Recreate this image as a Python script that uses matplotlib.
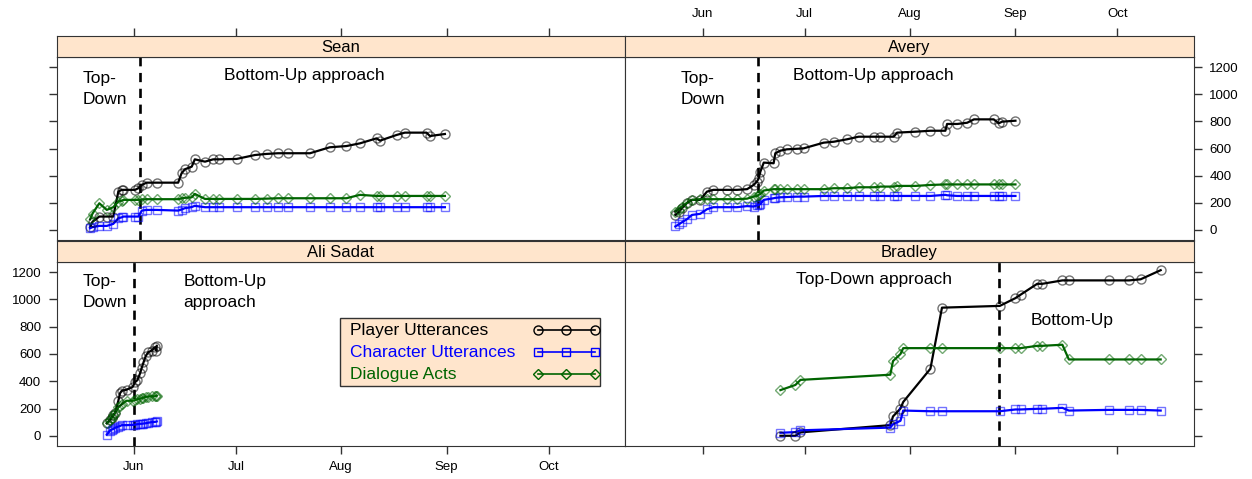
import datetime as dt
import numpy as np
import matplotlib.pyplot as plt
import matplotlib.dates as mdates
from matplotlib.patches import Rectangle

plt.rcParams['font.family'] = ['Liberation Sans', 'DejaVu Sans']

# all days are counted from 1 June
start = mdates.date2num(dt.datetime(2013, 6, 1))

sean_day = [-12.9, -12.2, -10.2, -8.0, -6.1, -4.6, -3.6, -3.1, 0.3, 1.3, 2.3, 3.7, 6.7,
            13.0, 14.0, 15.0, 17.0, 17.9, 20.9, 23.3, 25.0, 30.2, 35.6, 39.0, 42.4,
            45.4, 51.8, 57.6, 62.5, 66.5, 71.4, 72.4, 77.3, 79.7, 86.1, 87.1, 91.5]
sean_player = [20, 60, 98, 98, 98, 282, 295, 295, 295, 307, 331, 348, 348,
               348, 417, 447, 466, 520, 503, 520, 520, 523, 552, 560, 565,
               565, 565, 609, 618, 638, 675, 658, 700, 717, 717, 692, 707]
sean_char = [12, 20, 29, 29, 44, 86, 92, 98, 98, 98, 142, 147, 147,
             142, 150, 160, 168, 177, 167, 167, 167, 167, 167, 167, 167,
             167, 167, 167, 167, 167, 167, 167, 167, 167, 167, 167, 167]
sean_acts = [78, 120, 196, 147, 167, 209, 215, 221, 221, 221, 224, 226, 226,
             226, 232, 236, 240, 265, 228, 228, 228, 228, 228, 230, 233,
             233, 233, 233, 233, 258, 250, 250, 250, 250, 250, 250, 250]

avery_day = [-8.0, -7.0, -6.1, -4.5, -3.1, -0.7, 1.3, 3.2, 7.2, 10.1, 13.1, 15.0, 16.0,
             16.5, 17.0, 18.0, 20.9, 21.4, 22.9, 24.8, 27.8, 29.7, 35.6, 38.6, 42.5,
             45.9, 50.3, 52.3, 56.2, 57.2, 62.6, 67.0, 71.4, 71.9, 74.9, 77.8, 79.8,
             85.6, 87.1, 88.1, 92.0]
avery_player = [110, 130, 160, 200, 221, 221, 282, 295, 295, 295, 300, 331, 356,
                380, 429, 496, 491, 565, 584, 594, 598, 601, 643, 650, 668,
                687, 687, 687, 687, 717, 724, 731, 731, 781, 781, 790, 815,
                815, 786, 798, 805]
avery_char = [25, 40, 55, 80, 110, 118, 152, 167, 167, 167, 175, 172, 180,
              184, 190, 221, 233, 236, 240, 242, 245, 245, 250, 250, 250,
              250, 250, 250, 250, 250, 250, 250, 258, 255, 250, 250, 250,
              250, 250, 250, 250]
avery_acts = [135, 150, 172, 200, 221, 226, 226, 226, 226, 226, 230, 245, 250,
              258, 265, 290, 300, 300, 300, 300, 300, 300, 300, 307, 307,
              314, 314, 319, 319, 324, 324, 331, 335, 335, 335, 335, 335,
              335, 335, 335, 335]

ali_day = [-8.0, -7.1, -6.6, -6.1, -5.6, -4.6, -4.1, -3.6, -2.2, -0.4, 0.3, 1.0, 1.8,
           2.3, 2.8, 3.5, 4.2, 5.2, 6.2, 6.6, 6.7]
ali_player = [92, 115, 133, 150, 168, 257, 312, 330, 338, 358, 393, 408, 458,
              500, 538, 587, 613, 625, 650, 625, 660]
ali_char = [8, 38, 45, 50, 58, 68, 72, 78, 78, 80, 82, 85, 88,
            88, 90, 92, 96, 100, 102, 104, 105]
ali_acts = [92, 115, 133, 150, 168, 208, 220, 232, 257, 257, 262, 268, 272,
            275, 280, 286, 288, 290, 290, 292, 295]

bradley_day = [22.9, 27.3, 28.8, 55.2, 56.0, 58.2, 59.0, 67.0, 70.4, 87.4, 92.0, 93.5,
               98.4, 99.9, 105.8, 107.7, 119.5, 125.4, 128.8, 134.7]
bradley_player = [0, 0, 25, 78, 142, 200, 248, 492, 940, 953, 1010, 1035,
                  1115, 1115, 1140, 1140, 1140, 1140, 1148, 1215]
bradley_char = [22, 27, 40, 60, 85, 110, 185, 180, 180, 180, 193, 193,
                198, 198, 205, 185, 190, 190, 190, 185]
bradley_acts = [335, 373, 410, 448, 548, 600, 643, 643, 643, 643, 643, 643,
                660, 660, 668, 560, 560, 560, 560, 560]

# day on which the approach changed
switch_day = {'Sean': 1.9, 'Avery': 16.2, 'Ali Sadat': 0.0, 'Bradley': 87.1}

series_names = ['Player Utterances', 'Character Utterances', 'Dialogue Acts']
series_cols = ['black', '#0000ff', '#006400']
series_mark = ['o', 's', 'D']
series_ms = [6.5, 5.5, 5.5]

W, H = 1252, 479
fig = plt.figure(figsize=(W / 100, H / 100), dpi=100)

frame_col = '#333333'
strip_col = '#ffe5cc'

def fx(px):
    return px / W

def fy(py):
    return 1 - py / H

xl = (start - 22.8, start + 144.5)
yl = (-75, 1275)

# panel geometry in pixels: (left, right, top, bottom)
cols = [(56.5, 625), (625, 1194)]
rows = [(57, 240), (262, 446)]
strip_h = 21.5

panels = [
    ('Sean', 0, 0, sean_day, [sean_player, sean_char, sean_acts]),
    ('Avery', 0, 1, avery_day, [avery_player, avery_char, avery_acts]),
    ('Ali Sadat', 1, 0, ali_day, [ali_player, ali_char, ali_acts]),
    ('Bradley', 1, 1, bradley_day, [bradley_player, bradley_char, bradley_acts]),
]

axes = {}
for name, r, c, day, vals in panels:
    l, rr = cols[c]
    t, b = rows[r]
    ax = fig.add_axes([fx(l), fy(b), fx(rr - l), (b - t) / H])
    sax = fig.add_axes([fx(l), fy(t), fx(rr - l), strip_h / H])
    axes[name] = ax
    x = start + np.array(day)
    for v, col, mk, ms in zip(vals, series_cols, series_mark, series_ms):
        ax.plot(x, v, color=col, lw=1.6, zorder=2)
        ax.plot(x, v, ls='none', marker=mk, ms=ms, mfc='none', mec=col, mew=1.0,
                alpha=0.55, zorder=3)
    ax.axvline(start + switch_day[name], color='black', lw=1.9, ls=(0, (3.5, 2.5)), zorder=1)
    ax.set_xlim(xl)
    ax.set_ylim(yl)
    ax.set_yticks(np.arange(0, 1201, 200))
    ax.xaxis.set_major_locator(mdates.MonthLocator(bymonth=[6, 7, 8, 9, 10]))
    ax.xaxis.set_major_formatter(mdates.DateFormatter('%b'))
    for sp in ax.spines.values():
        sp.set_color(frame_col)
    ax.tick_params(colors=frame_col, labelcolor='black', length=6, width=1,
                   labelsize=9.5, pad=5)
    # lattice style alternating axes
    ax.tick_params(axis='y', left=(c == 0), right=(c == 1),
                   labelleft=(c == 0 and r == 1), labelright=(c == 1 and r == 0))
    ax.tick_params(axis='x', bottom=(r == 1), labelbottom=(r == 1 and c == 0),
                   top=False)

    sax.set_facecolor(strip_col)
    sax.set_xlim(xl)
    sax.set_yticks([])
    sax.xaxis.set_major_locator(mdates.MonthLocator(bymonth=[6, 7, 8, 9, 10]))
    sax.xaxis.set_major_formatter(mdates.DateFormatter('%b'))
    sax.tick_params(axis='x', bottom=False, labelbottom=False, top=(r == 0),
                    labeltop=(r == 0 and c == 1), colors=frame_col, labelcolor='black',
                    length=6, width=1, labelsize=9.5, pad=5)
    for sp in sax.spines.values():
        sp.set_color(frame_col)
    sax.text(0.5, 0.45, name, transform=sax.transAxes, ha='center', va='center',
             fontsize=12)

fs = 12.5
ax = axes['Sean']
ax.text(start - 15.2, 1040, 'Top-\nDown', ha='left', va='center', fontsize=fs, linespacing=1.45)
ax.text(start + 50.2, 1136, 'Bottom-Up approach', ha='center', va='center', fontsize=fs)

ax = axes['Avery']
ax.text(start - 6.4, 1040, 'Top-\nDown', ha='left', va='center', fontsize=fs, linespacing=1.45)
ax.text(start + 50.3, 1136, 'Bottom-Up approach', ha='center', va='center', fontsize=fs)

ax = axes['Ali Sadat']
ax.text(start - 15.2, 1054, 'Top-\nDown', ha='left', va='center', fontsize=fs, linespacing=1.45)
ax.text(start + 14.6, 1054, 'Bottom-Up\napproach', ha='left', va='center', fontsize=fs,
        linespacing=1.45)

ax = axes['Bradley']
ax.text(start + 50.3, 1150, 'Top-Down approach', ha='center', va='center', fontsize=fs)
ax.text(start + 108.7, 845, 'Bottom-Up', ha='center', va='center', fontsize=fs)

# key drawn by hand: text on the left, line with three symbols on the right
ax = axes['Ali Sadat']
ax.add_patch(Rectangle((0.499, 0.326), 0.457, 0.37, transform=ax.transAxes,
                       facecolor=strip_col, edgecolor=frame_col, lw=1.0, zorder=5))
row_y = [0.630, 0.510, 0.391]
key_x = [0.847, 0.897, 0.947]
for yy, name, col, mk, ms in zip(row_y, series_names, series_cols, series_mark, series_ms):
    ax.text(0.517, yy, name, transform=ax.transAxes, ha='left', va='center',
            fontsize=fs, color=col, zorder=6)
    ax.plot(key_x, [yy] * 3, transform=ax.transAxes, color=col, lw=1.2,
            marker=mk, ms=ms, mfc='none', mec=col, zorder=6, clip_on=False)

fig.savefig('out.png', dpi=100)
